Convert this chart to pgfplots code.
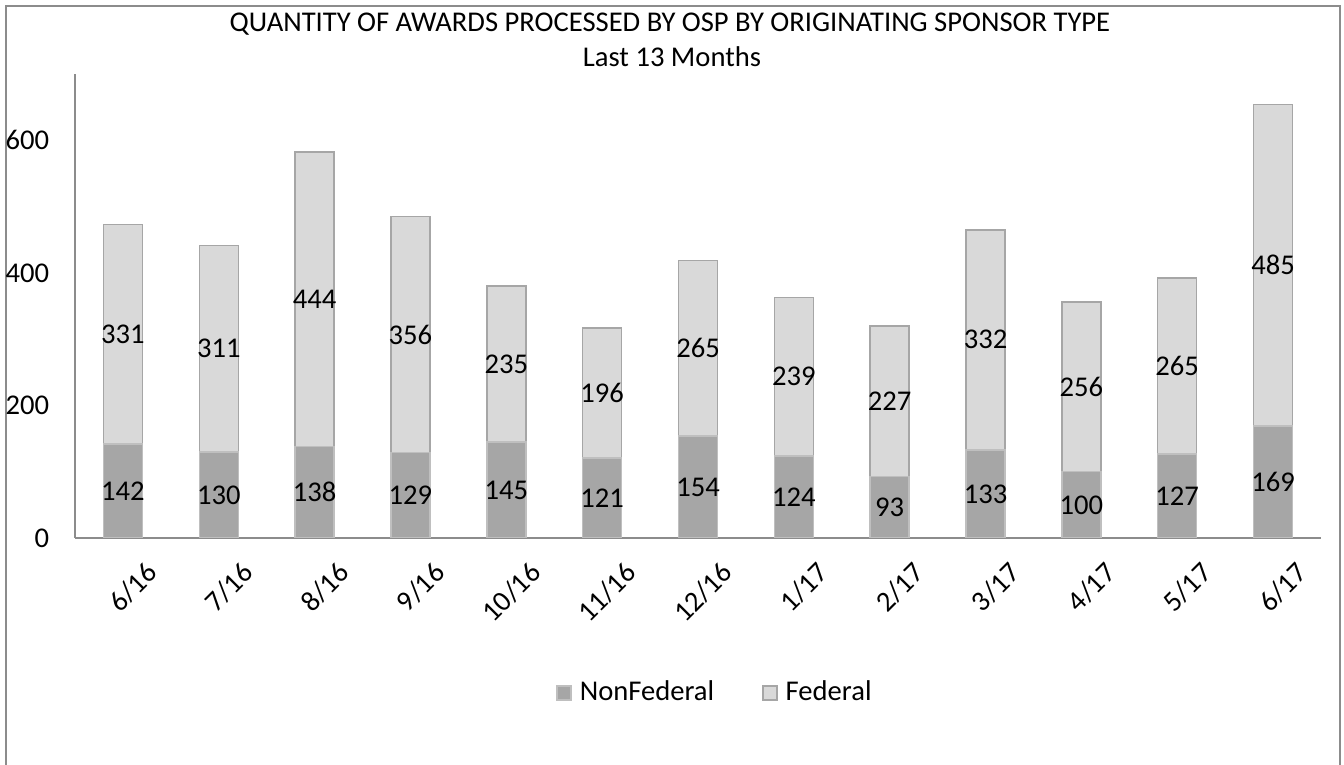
\documentclass[border=0pt]{standalone}
\usepackage{fontspec}
\setmainfont{Carlito}
\usepackage{pgfplots}
\usepackage{pgfplotstable}
\pgfplotsset{compat=1.18}
\pgfkeys{/pgf/number format/assume math mode=true}

\definecolor{nonfed}{HTML}{A6A6A6}
\definecolor{nonfededge}{HTML}{BFBFBF}
\definecolor{fed}{HTML}{D9D9D9}
\definecolor{fededge}{HTML}{A6A6A6}
\definecolor{axisgray}{HTML}{8C8C8C}

% awards per month, by originating sponsor type
\pgfplotstableread{
idx month nonfed fed
0  6/16  142 331
1  7/16  130 311
2  8/16  138 444
3  9/16  129 356
4  10/16 145 235
5  11/16 121 196
6  12/16 154 265
7  1/17  124 239
8  2/17  93  227
9  3/17  133 332
10 4/17  100 256
11 5/17  127 265
12 6/17  169 485
}\awards

\pgfplotsset{
  chartbox/.style={
    at={(37.5pt,113.5pt)}, anchor=south west,
    scale only axis, width=623pt, height=232pt,
    xmin=-0.5, xmax=12.5, ymin=0, ymax=700,
  },
}

\begin{document}
\fontsize{14.3}{17}\selectfont
\begin{tikzpicture}
\useasboundingbox (0,0) rectangle (672pt,382.5pt);
% outer chart frame
\draw[axisgray, line width=1pt] (3pt,0) -- (3pt,379.25pt) -- (670pt,379.25pt) -- (670pt,0);

\begin{axis}[
  chartbox,
  ybar stacked,
  bar width=19.5pt,
  axis lines*=left,
  axis line style={axisgray, line width=0.75pt},
  major tick length=0pt,
  ytick={0,200,400,600},
  xtick={0,...,12},
  xticklabels from table={\awards}{month},
  yticklabel style={xshift=-8pt},
  xticklabel style={rotate=45, anchor=east, inner sep=0pt, yshift=-21pt, xshift=0pt},
  legend style={at={(0.516,-0.334)}, anchor=center, draw=none,
    legend columns=2,
    nodes={inner xsep=4pt},
    /tikz/every even column/.append style={column sep=20pt}},
  legend image code/.code={\draw[#1] (0pt,-3.5pt) rectangle (7pt,3.5pt);},
]
\addplot[fill=nonfed, draw=nonfededge, line width=0.75pt] table[x=idx, y=nonfed] {\awards};
\addlegendentry{NonFederal}
\addplot[fill=fed, draw=fededge, line width=0.75pt] table[x=idx, y=fed] {\awards};
\addlegendentry{Federal}
\end{axis}

% value labels, centred in each segment
\begin{axis}[chartbox, hide axis]
\addplot[draw=none, nodes near coords, nodes near coords align=center,
  point meta=explicit] table[x=idx, y expr=\thisrow{nonfed}/2, meta=nonfed] {\awards};
\addplot[draw=none, nodes near coords, nodes near coords align=center,
  point meta=explicit] table[x=idx, y expr=\thisrow{nonfed}+\thisrow{fed}/2, meta=fed] {\awards};
\end{axis}

\node at (335pt,370.5pt) {QUANTITY OF AWARDS PROCESSED BY OSP BY ORIGINATING SPONSOR TYPE};
\node at (336pt,354pt) {Last 13 Months};
\end{tikzpicture}
\end{document}
